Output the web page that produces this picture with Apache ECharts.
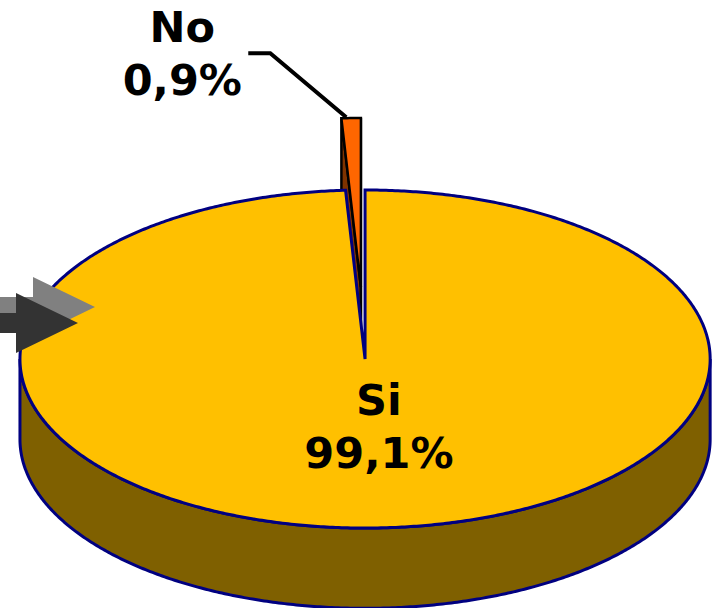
<!DOCTYPE html>
<html>
<head>
<meta charset="utf-8">
<script src="https://cdn.jsdelivr.net/npm/echarts/dist/echarts.min.js"></script>
<style>
  html, body { margin: 0; padding: 0; background: #fff; }
  #chart { width: 713px; height: 608px; }
</style>
</head>
<body>
<div id="chart"></div>
<script>
// datos del grafico
var categorias = ['Si', 'No'];
var valores = [99.1, 0.9];
var etiquetas = ['99,1%', '0,9%'];

var total = valores.reduce(function (a, b) { return a + b; }, 0);
var inicio = [];
var acum = 0;
valores.forEach(function (v) { inicio.push(acum / total * 360); acum += v; });

// colores de cada porcion
var tapa = ['#FFC000', '#FF6600'];
var lado = ['#7F6000', '#7F3300'];
var borde = ['#000080', '#000000'];
var fuente = 'bold 43px "DejaVu Sans", Verdana, sans-serif';

function renderItem(params, api) {
  var i = params.dataIndex;
  var W = api.getWidth(), H = api.getHeight();
  var cx = W * 0.512, cy = H * 0.5905;
  var rx = W * 0.484, ry = H * 0.278, prof = H * 0.132;
  var a0 = inicio[i];
  var a1 = a0 + api.value(1) / total * 360;
  var am = (a0 + a1) / 2 * Math.PI / 180;
  var dx = 0, dy = 0;
  if (i === 1) { // porcion separada
    dx = 0.426 * rx * Math.sin(am);
    dy = -0.426 * ry * Math.cos(am);
  }
  function pt(deg, h, f) {
    var t = deg * Math.PI / 180;
    f = f == null ? 1 : f;
    return [cx + dx + f * rx * Math.sin(t), cy + dy - f * ry * Math.cos(t) + (h || 0)];
  }
  function arco(d0, d1, h) {
    var n = Math.max(2, Math.ceil(Math.abs(d1 - d0) * 2));
    var p = [];
    for (var k = 0; k <= n; k++) p.push(pt(d0 + (d1 - d0) * k / n, h));
    return p;
  }
  var centro = [cx + dx, cy + dy];
  var hijos = [];

  // cara lateral visible (frente)
  var f0 = Math.max(a0, 90), f1 = Math.min(a1, 270);
  if (f1 > f0) {
    hijos.push({
      type: 'polygon', z2: 1,
      shape: { points: arco(f0, f1, 0).concat(arco(f1, f0, prof)) },
      style: { fill: lado[i], stroke: borde[i], lineWidth: 3 }
    });
  }
  // paredes de corte de la porcion separada
  if (i === 1) {
    [a0, a1].forEach(function (a) {
      var p = pt(a, 0);
      hijos.push({
        type: 'polygon', z2: 0,
        shape: { points: [centro, p, [p[0], p[1] + prof], [centro[0], centro[1] + prof]] },
        style: { fill: lado[i], stroke: borde[i], lineWidth: 2.5 }
      });
    });
  }
  // tapa
  hijos.push({
    type: 'polygon', z2: i === 1 ? 3 : 2,
    shape: { points: [centro].concat(arco(a0, a1, 0)) },
    style: { fill: tapa[i], stroke: borde[i], lineWidth: i === 1 ? 2.5 : 3, lineJoin: 'miter' }
  });

  // etiquetas
  if (i === 0) {
    var pe = pt((a0 + a1) / 2, 0, 0.4);
    hijos.push({
      type: 'text', z2: 5,
      style: {
        x: pe[0] + 10, y: pe[1], text: categorias[i] + '\n' + etiquetas[i],
        font: fuente, fill: '#000', align: 'center', verticalAlign: 'middle', lineHeight: 53
      }
    });
  } else {
    var pf = pt(a0 + (a1 - a0) * 0.25, -1);
    hijos.push({
      type: 'polyline', z2: 4,
      shape: { points: [pf, [pf[0] - 76, pf[1] - 64], [pf[0] - 98, pf[1] - 64]] },
      style: { stroke: '#000', lineWidth: 4, fill: null }
    });
    hijos.push({
      type: 'text', z2: 5,
      style: {
        x: pf[0] - 164, y: pf[1] - 64, text: categorias[i] + '\n' + etiquetas[i],
        font: fuente, fill: '#000', align: 'center', verticalAlign: 'middle', lineHeight: 53
      }
    });
  }
  return { type: 'group', children: hijos };
}

var chart = echarts.init(document.getElementById('chart'), null, { renderer: 'svg' });
chart.setOption({
  animation: false,
  series: [{
    type: 'custom',
    coordinateSystem: 'none',
    renderItem: renderItem,
    data: valores.map(function (v, k) { return [k, v]; })
  }],
  graphic: [
    { // flecha gris
      type: 'polygon', z: 100,
      shape: { points: [[0, 297], [33, 297], [33, 277], [95, 307], [33, 337], [33, 317], [0, 317]] },
      style: { fill: '#808080' }
    },
    { // flecha oscura
      type: 'polygon', z: 101,
      shape: { points: [[0, 313], [16, 313], [16, 293], [78, 323], [16, 353], [16, 333], [0, 333]] },
      style: { fill: '#333333' }
    }
  ]
});
</script>
</body>
</html>
